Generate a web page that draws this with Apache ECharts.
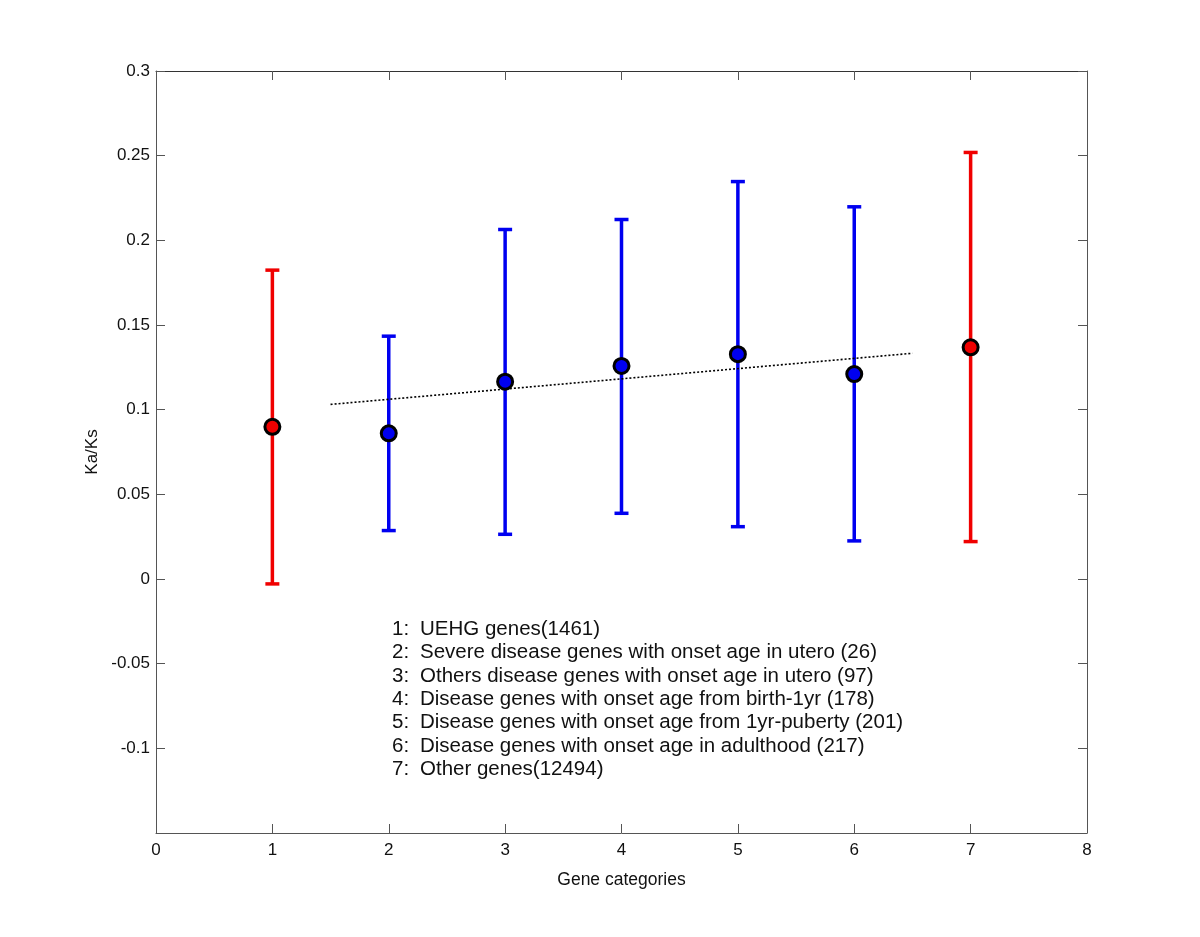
<!DOCTYPE html>
<html>
<head>
<meta charset="utf-8">
<title>Ka/Ks by gene category</title>
<script src="https://cdn.jsdelivr.net/npm/echarts@6/dist/echarts.min.js"></script>
<style>
  html, body { margin: 0; padding: 0; background: #fff; }
  #chart { width: 1200px; height: 937px; }
</style>
</head>
<body>
<div id="chart"></div>
<script>
// gene categories (x position) and Ka/Ks summary values
const categories = [1, 2, 3, 4, 5, 6, 7];
const meanVals  = [0.0899, 0.0860, 0.1165, 0.1258, 0.1328, 0.1210, 0.1368];
const upperVals = [0.1824, 0.1434, 0.2064, 0.2123, 0.2347, 0.2198, 0.2519];
const lowerVals = [-0.0029, 0.0286, 0.0264, 0.0388, 0.0309, 0.0225, 0.0221];

// dotted trend line through categories 2-6
const trendX = [1.5, 6.5];
const trendY = [0.1031, 0.1333];

const yTicks = [-0.15, -0.1, -0.05, 0, 0.05, 0.1, 0.15, 0.2, 0.25, 0.3];
const xTicks = [0, 1, 2, 3, 4, 5, 6, 7, 8];

const legendNums = ['1:', '2:', '3:', '4:', '5:', '6:', '7:'];
const legendText = [
  'UEHG genes(1461)',
  'Severe disease genes with onset age in utero (26)',
  'Others disease genes with onset age in utero (97)',
  'Disease genes with onset age from birth-1yr (178)',
  'Disease genes with onset age from 1yr-puberty (201)',
  'Disease genes with onset age in adulthood (217)',
  'Other genes(12494)'
];

const redCats = [1, 7];
const colorOf = c => (redCats.includes(c) ? '#f00000' : '#0000f0');

const chart = echarts.init(document.getElementById('chart'));

const font = 'Liberation Sans, Arial, sans-serif';
const axisColor = '#555';

const errData = categories.map((c, i) => [c, lowerVals[i], upperVals[i]]);
const pointData = categories.map((c, i) => [c, meanVals[i]]);
const trendData = trendX.map((x, i) => [x, trendY[i]]);

const yFmt = v => (v < -0.149 ? '' : String(+v.toFixed(2)));

// numbered key in the lower part of the plot
const legendGraphics = [];
legendText.forEach((t, i) => {
  const y = 619 + i * 23.3;
  legendGraphics.push({
    type: 'text', left: 392, top: y,
    style: { text: legendNums[i], fontFamily: font, fontSize: 20.5, fill: '#111' }
  });
  legendGraphics.push({
    type: 'text', left: 420, top: y,
    style: { text: t, fontFamily: font, fontSize: 20.5, fill: '#111' }
  });
});

const option = {
  backgroundColor: '#fff',
  animation: false,
  grid: {
    left: 156, right: 113, top: 71, bottom: 104,
    containLabel: false, outerBoundsMode: 'none'
  },
  xAxis: [
    {
      type: 'value', min: xTicks[0], max: xTicks[xTicks.length - 1], interval: 1,
      name: 'Gene categories', nameLocation: 'middle', nameGap: 38,
      nameTextStyle: { fontFamily: font, fontSize: 17.5, color: '#111' },
      axisLine: { show: true, onZero: false, lineStyle: { color: axisColor, width: 1 } },
      axisTick: { show: true, inside: true, length: 9, lineStyle: { color: axisColor } },
      axisLabel: { fontFamily: font, fontSize: 17, color: '#111', margin: 9 },
      splitLine: { show: false }
    },
    {
      type: 'value', position: 'top', min: xTicks[0], max: xTicks[xTicks.length - 1], interval: 1,
      axisLine: { show: true, onZero: false, lineStyle: { color: '#333', width: 1 } },
      axisTick: { show: true, inside: true, length: 9, lineStyle: { color: axisColor } },
      axisLabel: { show: false },
      splitLine: { show: false }
    }
  ],
  yAxis: [
    {
      type: 'value', min: yTicks[0], max: yTicks[yTicks.length - 1], interval: 0.05,
      name: 'Ka/Ks', nameLocation: 'middle', nameGap: 53, nameRotate: 90,
      nameTextStyle: { fontFamily: font, fontSize: 17, color: '#111' },
      axisLine: { show: true, onZero: false, lineStyle: { color: axisColor, width: 1 } },
      axisTick: { show: true, inside: true, length: 9, lineStyle: { color: axisColor } },
      axisLabel: { fontFamily: font, fontSize: 17, color: '#111', margin: 6, formatter: yFmt },
      splitLine: { show: false }
    },
    {
      type: 'value', position: 'right', min: yTicks[0], max: yTicks[yTicks.length - 1], interval: 0.05,
      axisLine: { show: true, onZero: false, lineStyle: { color: axisColor, width: 1 } },
      axisTick: { show: true, inside: true, length: 9, lineStyle: { color: axisColor } },
      axisLabel: { show: false },
      splitLine: { show: false }
    }
  ],
  series: [
    {
      type: 'custom',
      name: 'range',
      z: 2,
      data: errData,
      encode: { x: 0, y: [1, 2] },
      renderItem: (params, api) => {
        const x = api.value(0);
        const lo = api.coord([x, api.value(1)]);
        const hi = api.coord([x, api.value(2)]);
        const cap = 7;
        const style = { stroke: colorOf(x), lineWidth: 3.5 };
        return {
          type: 'group',
          children: [
            { type: 'line', shape: { x1: lo[0], y1: lo[1], x2: hi[0], y2: hi[1] }, style },
            { type: 'line', shape: { x1: hi[0] - cap, y1: hi[1], x2: hi[0] + cap, y2: hi[1] }, style },
            { type: 'line', shape: { x1: lo[0] - cap, y1: lo[1], x2: lo[0] + cap, y2: lo[1] }, style }
          ]
        };
      }
    },
    {
      type: 'line',
      name: 'trend',
      z: 3,
      data: trendData,
      symbol: 'none',
      lineStyle: { color: '#000', width: 1.6, type: [2, 2] }
    },
    {
      type: 'scatter',
      name: 'mean',
      z: 4,
      data: pointData,
      symbol: 'circle',
      symbolSize: 15,
      itemStyle: {
        color: p => colorOf(p.value[0]),
        borderColor: '#000',
        borderWidth: 3,
        opacity: 1
      }
    }
  ],
  graphic: legendGraphics
};

chart.setOption(option);
</script>
</body>
</html>
